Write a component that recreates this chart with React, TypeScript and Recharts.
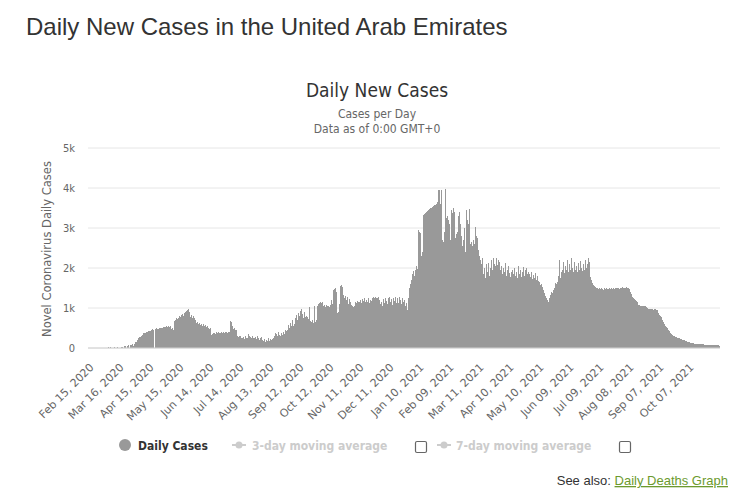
import React from "react";
import { BarChart, Bar, XAxis, YAxis, CartesianGrid } from "recharts";

// ---- Daily new cases, by month ----
const cases2020Feb = [0,0,0,0,0,0,0,0,4,0,0,0,6,2,2];
const cases2020Mar = [0,0,6,0,6,15,0,15,0,11,0,13,11,0,19,12,0,0,15,27,0,50,45,0,50,85,0,72,63,102,53];
const cases2020Apr = [110,140,150,210,241,277,283,300,331,370,376,387,398,412,432,420,437,451,470,455,0,480,490,484,470,500,490,505,510,520];
const cases2020May = [525,530,540,535,541,530,546,470,510,460,680,700,740,720,760,790,780,820,850,800,870,890,920,940,975,900,780,830,760,800,740];
const cases2020Jun = [700,620,660,600,630,580,610,560,590,540,570,530,550,510,480,500,330,350,370,380,360,390,370,400,380,375,395,380,400,385];
const cases2020Jul = [390,400,375,410,395,680,650,560,480,500,460,440,300,280,310,290,260,240,280,230,300,260,250,340,290,270,240,300,260,250,280];
const cases2020Aug = [230,300,260,210,250,280,200,180,220,160,210,180,250,170,220,200,230,240,300,380,350,290,400,330,300,380,330,400,360,450,430];
const cases2020Sep = [460,580,500,620,540,700,560,600,750,820,700,880,800,930,970,840,760,900,780,800,770,720,1030,680,650,700,620,1040,640,700];
const cases2020Oct = [1050,1100,1130,1160,1120,1140,1050,1070,1030,1080,1040,1060,1030,1080,1200,1100,1450,1480,1500,1400,870,900,1100,1540,1580,1520,1330,1250,1300,1200,1280];
const cases2020Nov = [1100,1230,1150,1080,1050,1020,1060,1150,1130,1170,1140,1160,1200,1120,1230,1180,1250,1140,1210,1160,1250,1130,1200,1170,1240,1270,1250,1280,1240,1260];
const cases2020Dec = [1270,1200,1090,1150,1060,1230,1120,1260,1180,1100,1250,1270,1150,1220,1080,1260,1180,1280,1130,1240,1120,1270,1200,1090,1250,1150,1200,1060,1120,950,1250];
const cases2021Jan = [1500,1600,1700,1850,1930,1800,1950,2040,1980,2950,2900,2880,2300,2400,3330,3360,3380,3400,3420,3450,3470,3490,3510,3530,3550,3570,3580,3600,3650,3940,3960];
const cases2021Feb = [3600,3950,2700,2650,2900,3977,3250,3300,3200,3100,2700,3450,3380,3500,3400,2750,2850,2900,3300,3400,3100,2800,2550,2700,3000,2400,3450,3200];
const cases2021Mar = [3100,3480,2600,2650,2550,2700,2600,3030,2800,2750,2460,2300,2200,2100,2250,1850,2000,1750,2100,1900,2130,1800,2000,2200,1950,2250,2100,2050,2240,2080,2200];
const cases2021Apr = [2150,1950,2050,1850,2000,1900,2120,1800,1950,2050,1880,1780,1900,1950,1850,2000,1800,1900,1750,2050,1850,1950,1780,1900,2030,1800,1950,2000,1850,1900];
const cases2021May = [1850,1780,1900,1720,1830,1750,1880,1700,1800,1680,1650,1580,1600,1530,1450,1380,1300,1250,1200,1160,1250,1330,1400,1380,1450,1500,1620,1600,1650,1800,2200];
const cases2021Jun = [1750,1900,1950,2150,1880,2050,1950,2200,1900,2100,1950,2250,2000,1900,2150,1950,2050,1900,2120,1950,2180,2000,1920,2100,1950,2200,2000,2100,2240,2150];
const cases2021Jul = [1780,1700,1620,1570,1550,1520,1510,1500,1480,1490,1470,1500,1480,1460,1490,1470,1500,1480,1470,1490,1480,1500,1470,1490,1480,1500,1510,1490,1500,1480,1510];
const cases2021Aug = [1500,1520,1490,1510,1500,1520,1490,1500,1480,1400,1350,1280,1240,1220,1200,1180,1160,1080,1070,1060,1060,1050,1040,1050,1040,1030,990,980,975,970,980];
const cases2021Sep = [970,960,975,965,950,940,870,830,800,780,700,650,610,560,530,500,450,420,380,350,330,300,290,280,270,260,250,240,230,220];
const cases2021Oct = [210,200,190,180,170,160,150,140,130,125,120,115,110,105,100,100,95,98,92,90,88,90,85,87,83,80,82,78,80,76,75];
const cases2021Nov = [72,70,68,65,66,63,62];

const dailyCases = [
  ...cases2020Feb, ...cases2020Mar, ...cases2020Apr, ...cases2020May, ...cases2020Jun,
  ...cases2020Jul, ...cases2020Aug, ...cases2020Sep, ...cases2020Oct, ...cases2020Nov,
  ...cases2020Dec, ...cases2021Jan, ...cases2021Feb, ...cases2021Mar, ...cases2021Apr,
  ...cases2021May, ...cases2021Jun, ...cases2021Jul, ...cases2021Aug, ...cases2021Sep,
  ...cases2021Oct, ...cases2021Nov,
];

const xTickLabels = [
  "Feb 15, 2020", "Mar 16, 2020", "Apr 15, 2020", "May 15, 2020", "Jun 14, 2020",
  "Jul 14, 2020", "Aug 13, 2020", "Sep 12, 2020", "Oct 12, 2020", "Nov 11, 2020",
  "Dec 11, 2020", "Jan 10, 2021", "Feb 09, 2021", "Mar 11, 2021", "Apr 10, 2021",
  "May 10, 2021", "Jun 09, 2021", "Jul 09, 2021", "Aug 08, 2021", "Sep 07, 2021",
  "Oct 07, 2021",
];
const yTicks = [0, 1000, 2000, 3000, 4000, 5000];

const monthNames = ["Jan","Feb","Mar","Apr","May","Jun","Jul","Aug","Sep","Oct","Nov","Dec"];
const startUTC = Date.UTC(2020, 1, 15);
const dayLabel = (i: number) => {
  const d = new Date(startUTC + i * 86400000);
  return `${monthNames[d.getUTCMonth()]} ${String(d.getUTCDate()).padStart(2, "0")}, ${d.getUTCFullYear()}`;
};
const chartData = dailyCases.map((v, i) => ({ date: dayLabel(i), cases: v }));

const FONT = "'DejaVu Sans Condensed', 'DejaVu Sans', sans-serif";
const FONT_N = "'DejaVu Sans', sans-serif";

const XTick = (props: any) => {
  const { x, y, payload } = props;
  const tx = x + 6;
  const ty = y + 12;
  return (
    <text x={tx} y={ty} transform={`rotate(-45 ${tx} ${ty})`} textAnchor="end"
      fontSize={11} fill="#666" fontFamily={FONT_N}>
      {payload.value}
    </text>
  );
};

const BarShape = (props: any) => {
  const { x, y, width, height } = props;
  if (!height || height <= 0) return null;
  return <rect x={x} y={y} width={width} height={height} fill="#999999" shapeRendering="crispEdges" />;
};

export default function App() {
  return (
    <div style={{ position: "absolute", left: 0, top: 0, width: 752, height: 504, background: "#fff" }}>
      <BarChart width={752} height={504} data={chartData}
        margin={{ top: 148, right: 32, bottom: 96, left: 48 }}
        barCategoryGap={0} barGap={0}>
        <CartesianGrid vertical={false} stroke="#e6e6e6" />
        <XAxis dataKey="date" ticks={xTickLabels} interval={0} height={60}
          tickLine={false} axisLine={{ stroke: "#d0d0d0" }} tick={<XTick />} />
        <YAxis width={40} domain={[0, 5000]} ticks={yTicks} tickLine={false} axisLine={false}
          tickMargin={7}
          tick={{ fontSize: 11, fill: "#666", fontFamily: FONT }}
          tickFormatter={(v: number) => (v === 0 ? "0" : `${v / 1000}k`)} />
        <Bar dataKey="cases" isAnimationActive={false} shape={<BarShape />} />
      </BarChart>
      <svg width={752} height={504} style={{ position: "absolute", left: 0, top: 0, pointerEvents: "none" }}>
        <text x={26} y={35} fontFamily="'Liberation Sans', Arial, sans-serif" fontSize={24} fill="#333">
          Daily New Cases in the United Arab Emirates
        </text>
        <text x={377} y={97} textAnchor="middle" fontFamily={FONT} fontSize={19} fill="#333">Daily New Cases</text>
        <text x={377} y={118} textAnchor="middle" fontFamily={FONT} fontSize={12} fill="#666">Cases per Day</text>
        <text x={377} y={133} textAnchor="middle" fontFamily={FONT} fontSize={12} fill="#666">Data as of 0:00 GMT+0</text>
        <text x={51} y={249} transform="rotate(-90 51 249)" textAnchor="middle" fontFamily={FONT_N} fontSize={11.5} fill="#666">
          Novel Coronavirus Daily Cases
        </text>
        {/* legend */}
        <circle cx={125} cy={445} r={6} fill="#999999" />
        <text x={138} y={449.5} fontFamily={FONT} fontSize={12} fontWeight="bold" fill="#333">Daily Cases</text>
        <line x1={232} y1={445} x2={246} y2={445} stroke="#cccccc" strokeWidth={2} />
        <circle cx={239} cy={445} r={3.5} fill="#cccccc" />
        <text x={252} y={449.5} fontFamily={FONT} fontSize={12} fontWeight="bold" fill="#cccccc">3-day moving average</text>
        <rect x={415.5} y={441.5} width={11} height={11} rx={1.5} fill="#fff" stroke="#666" strokeWidth={1.2} />
        <line x1={437} y1={445} x2={451} y2={445} stroke="#cccccc" strokeWidth={2} />
        <circle cx={444} cy={445} r={3.5} fill="#cccccc" />
        <text x={456} y={449.5} fontFamily={FONT} fontSize={12} fontWeight="bold" fill="#cccccc">7-day moving average</text>
        <rect x={619.5} y={441.5} width={11} height={11} rx={1.5} fill="#fff" stroke="#666" strokeWidth={1.2} />
        <text x={728} y={485} textAnchor="end" fontFamily="'Liberation Sans', Arial, sans-serif" fontSize={13}>
          <tspan fill="#333">See also: </tspan>
          <tspan fill="#6c9a2e" textDecoration="underline">Daily Deaths Graph</tspan>
        </text>
      </svg>
    </div>
  );
}
